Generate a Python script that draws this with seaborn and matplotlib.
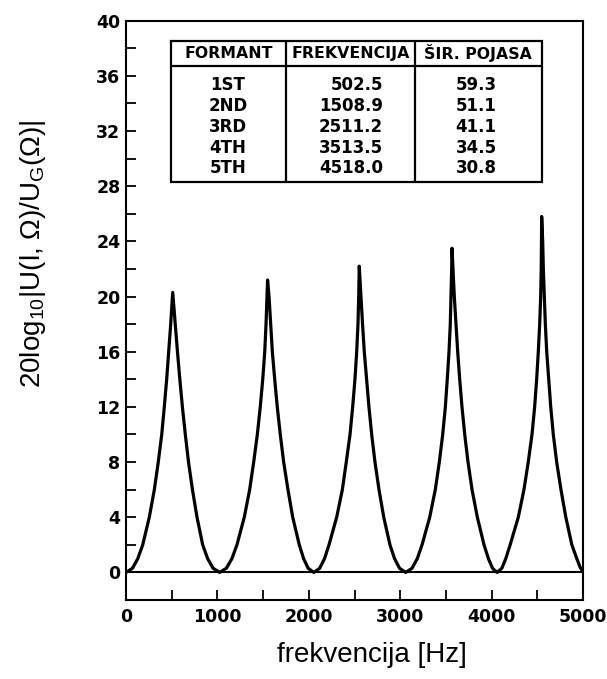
import matplotlib
matplotlib.use("Agg")
import matplotlib.pyplot as plt
import numpy as np
import pandas as pd
import seaborn as sns
from matplotlib.ticker import MultipleLocator
from matplotlib.patches import Rectangle

# ---- data ----
freq_hz = [0, 71, 129, 183,
           255, 310, 353, 391, 419, 445, 467, 489, 511,
           539, 563, 589, 617, 649, 684, 727, 777, 839, 893, 953, 1025,
           1098, 1159, 1214, 1294, 1353, 1397, 1437, 1469, 1496, 1518, 1532, 1543, 1549,
           1565, 1583, 1601, 1627, 1655, 1688, 1725, 1772, 1824, 1896, 1943, 1993, 2055,
           2119, 2172, 2221, 2305, 2367, 2410, 2451, 2480, 2505, 2524, 2538, 2546, 2552,
           2571, 2588, 2607, 2632, 2658, 2688, 2724, 2768, 2820, 2888, 2938, 2993, 3060,
           3129, 3187, 3239, 3323, 3384, 3428, 3465, 3494, 3515, 3534, 3548, 3556, 3563, 3567,
           3578, 3592, 3611, 3629, 3651, 3676, 3706, 3742, 3786, 3844, 3917, 3965, 4010, 4060,
           4112, 4155, 4203, 4292, 4354, 4401, 4442, 4471, 4493, 4511, 4526, 4537, 4543, 4546, 4548,
           4559, 4566, 4577, 4588, 4603, 4625, 4647, 4675, 4712, 4759, 4812, 4878, 4932, 4970, 5000]
level_db = [0, 0.3, 1.0, 2,
            4, 6, 8, 10, 12, 14, 16, 18, 20.3,
            18, 16, 14, 12, 10, 8, 6, 4, 2, 1.0, 0.3, 0,
            0.3, 1.0, 2, 4, 6, 8, 10, 12, 14, 16, 18, 20, 21.2,
            20, 18, 16, 14, 12, 10, 8, 6, 4, 2, 1.0, 0.3, 0,
            0.3, 1.0, 2, 4, 6, 8, 10, 12, 14, 16, 18, 20, 22.2,
            20, 18, 16, 14, 12, 10, 8, 6, 4, 2, 1.0, 0.3, 0,
            0.3, 1.0, 2, 4, 6, 8, 10, 12, 14, 16, 18, 20, 22, 23.5,
            22, 20, 18, 16, 14, 12, 10, 8, 6, 4, 2, 1.0, 0.3, 0,
            0.3, 1.0, 2, 4, 6, 8, 10, 12, 14, 16, 18, 20, 22, 24, 25.8,
            24, 22, 20, 18, 16, 14, 12, 10, 8, 6, 4, 2, 1.0, 0.35, 0.05]

table_header = ["FORMANT", "FREKVENCIJA", "ŠIR. POJASA"]
formant_names = ["1ST", "2ND", "3RD", "4TH", "5TH"]
formant_freqs = ["502.5", "1508.9", "2511.2", "3513.5", "4518.0"]
bandwidths = ["59.3", "51.1", "41.1", "34.5", "30.8"]

x_ticks = [0, 1000, 2000, 3000, 4000, 5000]
y_ticks = [0, 4, 8, 12, 16, 20, 24, 28, 32, 36, 40]

# ---- style ----
sns.set_theme(style="white")
plt.rcParams["font.family"] = ["DejaVu Sans"]
plt.rcParams["text.color"] = "black"
plt.rcParams["axes.labelcolor"] = "black"
plt.rcParams["xtick.color"] = "black"
plt.rcParams["ytick.color"] = "black"
plt.rcParams["mathtext.fontset"] = "custom"
plt.rcParams["mathtext.rm"] = "Liberation Sans"
plt.rcParams["mathtext.it"] = "Liberation Sans:italic"
plt.rcParams["mathtext.default"] = "regular"

df = pd.DataFrame({"freq": freq_hz, "db": level_db})

fig = plt.figure(figsize=(6.07, 6.79), dpi=100)
ax = fig.add_axes([126 / 607, 79 / 679, 457 / 607, 579.3 / 679])

sns.lineplot(data=df, x="freq", y="db", ax=ax, color="black", lw=2.3,
             estimator=None, sort=False)
ax.axhline(0, color="black", lw=1.5, zorder=1)

ax.set_xlim(0, 5000)
ax.set_ylim(-2, 40)
ax.set_xticks(x_ticks)
ax.set_yticks(y_ticks)
ax.xaxis.set_minor_locator(MultipleLocator(500))
ax.yaxis.set_minor_locator(MultipleLocator(2))
ax.tick_params(which="both", direction="in", length=7, width=1.3, color="black",
               labelsize=12.5, labelcolor="black", bottom=True, left=True)
ax.tick_params(axis="x", which="major", pad=6)
ax.tick_params(axis="y", which="major", pad=4)
for lbl in ax.get_xticklabels() + ax.get_yticklabels():
    lbl.set_fontweight("bold")

for sp in ax.spines.values():
    sp.set_visible(True)
    sp.set_color("black")
    sp.set_linewidth(1.5)

ax.set_xlabel("frekvencija [Hz]", family=["Liberation Sans", "DejaVu Sans"],
              fontsize=20, va="center", color="black")
ax.xaxis.set_label_coords(0.538, -0.095)
ax.set_ylabel("20log$_{10}$|U(l, Ω)/U$_{G}$(Ω)|", family=["Liberation Sans", "DejaVu Sans"],
              fontsize=20, va="center", color="black")
ax.yaxis.set_label_coords(-0.203, 0.598)

# ---- formant table ----
tl, tr = 0.0985, 0.910
tb, tt = 0.7216, 0.9655
hb = 0.9218
c1, c2 = 0.350, 0.632
ax.add_patch(Rectangle((tl, tb), tr - tl, tt - tb, transform=ax.transAxes,
                       fill=True, facecolor="white", edgecolor="black", lw=1.6, zorder=5))
ax.plot([tl, tr], [hb, hb], transform=ax.transAxes, color="black", lw=1.6, zorder=6)
ax.plot([c1, c1], [tb, tt], transform=ax.transAxes, color="black", lw=1.6, zorder=6)
ax.plot([c2, c2], [tb, tt], transform=ax.transAxes, color="black", lw=1.6, zorder=6)

hy = 0.9437
for txt, cx in zip(table_header, [(tl + c1) / 2, (c1 + c2) / 2, (c2 + tr) / 2]):
    ax.text(cx, hy, txt, transform=ax.transAxes, ha="center", va="center",
            fontsize=11.3, fontweight="bold", color="black", zorder=7)

row_y = [0.889, 0.853, 0.817, 0.781, 0.745]
for name, fr, bw, ry in zip(formant_names, formant_freqs, bandwidths, row_y):
    ax.text(0.223, ry, name, transform=ax.transAxes, ha="center", va="center",
            fontsize=12, fontweight="bold", color="black", zorder=7)
    ax.text(0.562, ry, fr, transform=ax.transAxes, ha="right", va="center",
            fontsize=12, fontweight="bold", color="black", zorder=7)
    ax.text(0.766, ry, bw, transform=ax.transAxes, ha="center", va="center",
            fontsize=12, fontweight="bold", color="black", zorder=7)

fig.savefig("out.png", dpi=100, facecolor="white")
